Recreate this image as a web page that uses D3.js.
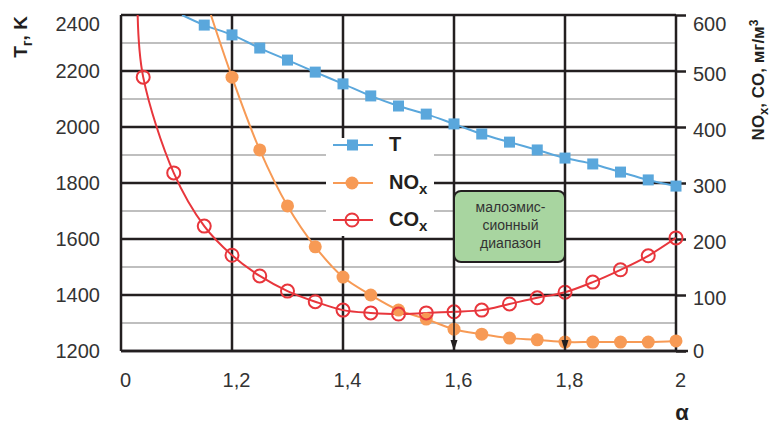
<!DOCTYPE html>
<html>
<head>
<meta charset="utf-8">
<script src="https://cdn.jsdelivr.net/npm/d3@7"></script>
<style>
  body { margin: 0; background: #fff; }
  text { font-family: "Liberation Sans Narrow", "Arial Narrow", "Liberation Sans", sans-serif; }
</style>
</head>
<body>
<div id="chart"></div>
<script>
// данные
const alphaT = [1.15, 1.2, 1.25, 1.3, 1.35, 1.4, 1.45, 1.5, 1.55, 1.6, 1.65, 1.7, 1.75, 1.8, 1.85, 1.9, 1.95, 2.0]
const tempT = [2364, 2329, 2282, 2239, 2196, 2154, 2111, 2075, 2046, 2011, 1975, 1946, 1918, 1889, 1868, 1839, 1811, 1789]
const tEdge = [1.11, 2400] // где линия уходит за верх графика

const alphaNOx = [1.2, 1.25, 1.3, 1.35, 1.4, 1.45, 1.5, 1.55, 1.6, 1.65, 1.7, 1.75, 1.8, 1.85, 1.9, 1.95, 2.0]
const nox = [489, 359, 259, 186, 132, 100, 73, 57, 39, 30, 23, 20, 16, 16, 16, 16, 18]
const noxEdge = [1.162, 600]

const alphaCO = [1.04, 1.095, 1.15, 1.2, 1.25, 1.3, 1.35, 1.4, 1.45, 1.5, 1.55, 1.6, 1.65, 1.7, 1.75, 1.8, 1.85, 1.9, 1.95, 2.0]
const co = [489, 318, 223, 171, 134, 107, 88, 73, 68, 66, 68, 70, 73, 84, 95, 105, 123, 145, 170, 202]
const coEdge = [1.03, 600]

const xTicks = [1, 1.2, 1.4, 1.6, 1.8, 2]
const xTickLabels = ['0', '1,2', '1,4', '1,6', '1,8', '2']
const leftTicks = [1200, 1400, 1600, 1800, 2000, 2200, 2400]
const leftMinor = [1300, 1500, 1700, 1900, 2100, 2300]
const rightTicks = [0, 100, 200, 300, 400, 500, 600]
const arrowsAt = [1.6, 1.8]
const zoneText = ['малоэмис-', 'сионный', 'диапазон']

const W = 773, H = 425
const blue = '#5aa7dc', orange = '#f79a55', red = '#e8363c', dark = '#231f20'

let svg = d3.select('#chart').append('svg')
    .attr('width', W)
    .attr('height', H)

let x = d3.scaleLinear().domain([1, 2]).range([121, 676])
let yL = d3.scaleLinear().domain([1200, 2400]).range([351, 15])
let yR = d3.scaleLinear().domain([0, 600]).range([351, 15])

// сетка
let grid = svg.append('g')
grid.selectAll('.minor').data(leftMinor).join('line')
    .attr('x1', x(1)).attr('x2', x(2))
    .attr('y1', d => yL(d)).attr('y2', d => yL(d))
    .style('stroke', '#aaa').style('stroke-width', 1.5)
grid.selectAll('.major').data(leftTicks).join('line')
    .attr('x1', x(1)).attr('x2', x(2))
    .attr('y1', d => yL(d)).attr('y2', d => yL(d))
    .style('stroke', dark).style('stroke-width', 2.5)
grid.selectAll('.vert').data(xTicks).join('line')
    .attr('x1', d => x(d)).attr('x2', d => x(d))
    .attr('y1', yL(2400)).attr('y2', yL(1200))
    .style('stroke', dark).style('stroke-width', 2.5)
// нижняя линия чуть длиннее
grid.append('line')
    .attr('x1', x(1)).attr('x2', x(2) + 12)
    .attr('y1', yL(1200)).attr('y2', yL(1200))
    .style('stroke', dark).style('stroke-width', 2.5)

// оси
let axL = svg.append('g')
    .attr('transform', `translate(${x(1)},0)`)
    .call(d3.axisLeft(yL).tickValues(leftTicks).tickFormat(d3.format('d')).tickSize(0).tickPadding(21))
let axR = svg.append('g')
    .attr('transform', `translate(${x(2)},0)`)
    .call(d3.axisRight(yR).tickValues(rightTicks).tickFormat(d3.format('d')).tickSize(10).tickPadding(7))
let axB = svg.append('g')
    .attr('transform', `translate(0,${yL(1200)})`)
    .call(d3.axisBottom(x).tickValues(xTicks).tickFormat((d, i) => xTickLabels[i]).tickSize(0).tickPadding(22))

for (let ax of [axL, axR, axB]) {
    ax.select('.domain').remove()
    ax.selectAll('text').style('font-size', '20px').style('fill', '#333')
    ax.selectAll('line').style('stroke', dark).style('stroke-width', 2.5)
}
axL.selectAll('text').filter(d => d == 2400).attr('dy', '0.78em')
axR.selectAll('text').filter(d => d == 600).attr('dy', '0.75em')
axR.selectAll('text').filter(d => d != 600 && d != 0).attr('dy', '0.45em')
axB.selectAll('text').attr('dx', 4)

// кривые
let clip = svg.append('clipPath').attr('id', 'plot')
clip.append('rect').attr('x', x(1)).attr('y', yL(2400)).attr('width', x(2) - x(1)).attr('height', yL(1200) - yL(2400))

let plot = svg.append('g').attr('clip-path', 'url(#plot)')

function series(xs, ys, edge, yScale, color){
    let pts = [edge].concat(xs.map((a, i) => [a, ys[i]]))
    let line = d3.line()
        .x(d => x(d[0]))
        .y(d => yScale(d[1]))
        .curve(d3.curveCatmullRom)
    plot.append('path')
        .datum(pts)
        .attr('d', line)
        .style('fill', 'none')
        .style('stroke', color)
        .style('stroke-width', 2)
}

series(alphaT, tempT, tEdge, yL, blue)
series(alphaNOx, nox, noxEdge, yR, orange)
series(alphaCO, co, coEdge, yR, red)

svg.append('g').selectAll('rect').data(alphaT).join('rect')
    .attr('x', d => x(d) - 5.5)
    .attr('y', (d, i) => yL(tempT[i]) - 5.5)
    .attr('width', 11).attr('height', 11)
    .style('fill', blue)

svg.append('g').selectAll('circle').data(alphaNOx).join('circle')
    .attr('cx', d => x(d))
    .attr('cy', (d, i) => yR(nox[i]))
    .attr('r', 6.5)
    .style('fill', orange)

svg.append('g').selectAll('circle').data(alphaCO).join('circle')
    .attr('cx', d => x(d))
    .attr('cy', (d, i) => yR(co[i]))
    .attr('r', 6.5)
    .style('fill', 'none')
    .style('stroke', red)
    .style('stroke-width', 2)

// стрелки у 1,6 и 1,8
let arr = svg.append('g')
arr.selectAll('line').data(arrowsAt).join('line')
    .attr('x1', d => x(d)).attr('x2', d => x(d))
    .attr('y1', 262).attr('y2', 343)
    .style('stroke', dark).style('stroke-width', 1.5)
arr.selectAll('path').data(arrowsAt).join('path')
    .attr('d', d => `M${x(d) - 3.5},340 L${x(d) + 3.5},340 L${x(d)},351 Z`)
    .style('fill', dark)

// зелёный блок
let zone = svg.append('g')
zone.append('rect')
    .attr('x', x(1.6)).attr('y', 191)
    .attr('width', x(1.8) - x(1.6)).attr('height', 71)
    .attr('rx', 7)
    .style('fill', '#a8d5a0')
    .style('stroke', dark)
    .style('stroke-width', 2)
zone.selectAll('text').data(zoneText).join('text')
    .attr('x', (x(1.6) + x(1.8)) / 2 + 1)
    .attr('y', (d, i) => 212 + i * 18)
    .attr('text-anchor', 'middle')
    .style('font-size', '14px')
    .style('fill', '#333')
    .text(d => d)

// легенда
let leg = svg.append('g')
leg.append('rect')
    .attr('x', 326).attr('y', 138)
    .attr('width', 108).attr('height', 98)
    .style('fill', '#fff')

let legItems = [
    {name: 'T', sub: '', color: blue, y: 145, mark: 'square'},
    {name: 'NO', sub: 'x', color: orange, y: 183, mark: 'dot'},
    {name: 'CO', sub: 'x', color: red, y: 220, mark: 'ring'}
]
legItems.forEach(it => {
    leg.append('line')
        .attr('x1', 333).attr('x2', 373)
        .attr('y1', it.y).attr('y2', it.y)
        .style('stroke', it.color).style('stroke-width', 2)
    if (it.mark == 'square') {
        leg.append('rect').attr('x', 347).attr('y', it.y - 5.5).attr('width', 11).attr('height', 11).style('fill', it.color)
    } else if (it.mark == 'dot') {
        leg.append('circle').attr('cx', 352).attr('cy', it.y).attr('r', 6.5).style('fill', it.color)
    } else {
        leg.append('circle').attr('cx', 352).attr('cy', it.y).attr('r', 6.5)
            .style('fill', 'none').style('stroke', it.color).style('stroke-width', 2)
    }
    let t = leg.append('text')
        .attr('x', 389).attr('y', it.y + 6)
        .style('font-size', '20px').style('font-weight', 'bold').style('fill', '#231f20')
    t.append('tspan').text(it.name)
    if (it.sub) t.append('tspan').attr('dy', 5).style('font-size', '15px').text(it.sub)
})

// подписи осей
let tl = svg.append('text')
    .attr('transform', 'translate(27,37) rotate(-90)')
    .attr('text-anchor', 'middle')
    .style('font-size', '19px').style('font-weight', 'bold').style('fill', '#231f20')
tl.append('tspan').text('T')
tl.append('tspan').attr('dy', 5).style('font-size', '14px').text('г')
tl.append('tspan').attr('dy', -5).text(', K')

let tr = svg.append('text')
    .attr('transform', 'translate(764,80) rotate(-90)')
    .attr('text-anchor', 'middle')
    .style('font-size', '17px').style('font-weight', 'bold').style('fill', '#231f20')
tr.append('tspan').text('NO')
tr.append('tspan').attr('dy', 4).style('font-size', '13px').text('x')
tr.append('tspan').attr('dy', -4).text(', CO, мг/м')
tr.append('tspan').attr('dy', -6).style('font-size', '12px').text('3')

svg.append('text')
    .attr('x', 682).attr('y', 420)
    .attr('text-anchor', 'middle')
    .style('font-size', '22px').style('font-weight', 'bold').style('fill', '#231f20')
    .text('α')
</script>
</body>
</html>
